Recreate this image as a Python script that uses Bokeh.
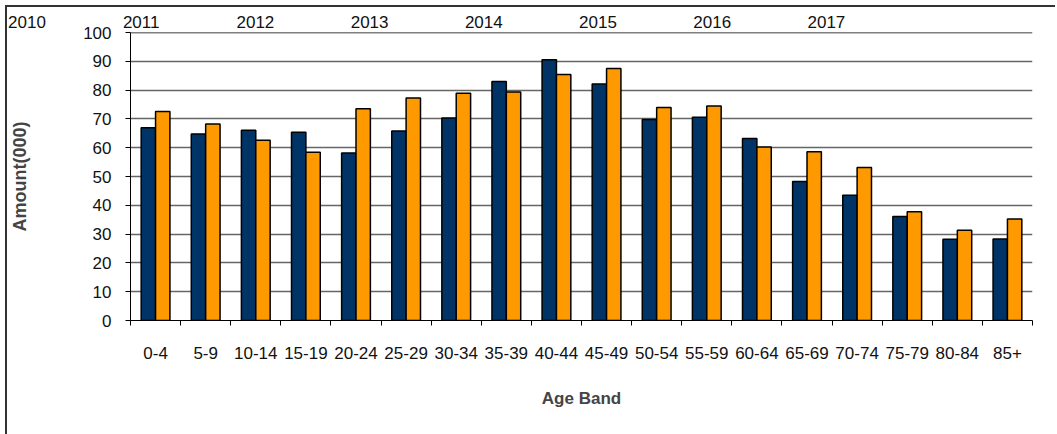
from bokeh.plotting import figure
from bokeh.layouts import column
from bokeh.models import ColumnDataSource, Range1d, FixedTicker, Div, Span
from bokeh.transform import dodge
from bokeh.embed import file_html
from bokeh.resources import INLINE

# ---- data ----
age_bands = ["0-4", "5-9", "10-14", "15-19", "20-24", "25-29", "30-34", "35-39",
             "40-44", "45-49", "50-54", "55-59", "60-64", "65-69", "70-74",
             "75-79", "80-84", "85+"]
series_a = [66.9, 64.8, 66.1, 65.4, 58.2, 65.8, 70.3, 83.0, 90.5, 82.1,
            69.8, 70.6, 63.2, 48.3, 43.5, 36.1, 28.2, 28.3]
series_b = [72.6, 68.2, 62.6, 58.4, 73.5, 77.3, 78.9, 79.3, 85.4, 87.5,
            74.0, 74.5, 60.2, 58.6, 53.1, 37.8, 31.3, 35.2]
years = ["2010", "2011", "2012", "2013", "2014", "2015", "2016", "2017"]
y_ticks = [0, 10, 20, 30, 40, 50, 60, 70, 80, 90, 100]

FONT = "Liberation Sans"
NAVY = "#003366"
ORANGE = "#FF9900"
BORDER = "2px solid #333333"

n = len(age_bands)
source = ColumnDataSource(dict(pos=list(range(n)), age=age_bands,
                               a=series_a, b=series_b))

W = 1050

# ---- header row of year labels ----
spans = "".join(
    f'<span style="position:absolute;left:{20 + 114.2 * k:.1f}px;top:7px;'
    f'transform:translateX(-50%);white-space:nowrap">{yr}</span>'
    for k, yr in enumerate(years))
header = Div(text=(f'<div style="position:relative;width:{W}px;height:30px;'
                   f'font-family:\'{FONT}\';font-size:17px;line-height:17px;'
                   f'color:#111111">{spans}</div>'),
             width=W, height=30,
             styles={"border-top": BORDER, "border-left": BORDER,
                     "margin-left": "5px", "overflow": "visible"})

# ---- chart ----
H = 414
p = figure(x_range=Range1d(0, n), y_range=Range1d(0, 100),
           width=W, height=H, output_backend="svg", toolbar_location=None,
           min_border_left=122, min_border_right=W - 1025,
           min_border_top=12, min_border_bottom=114)
p.styles = {"border-left": BORDER, "margin-left": "5px", "margin-top": "-20px"}
p.outline_line_color = None
p.background_fill_color = "white"
p.border_fill_alpha = 0

bw = 0.287
p.vbar(x=dodge("pos", 0.5 - bw / 2), top="a", width=bw, source=source,
       fill_color=NAVY, line_color="black", line_width=1.5)
p.vbar(x=dodge("pos", 0.5 + bw / 2), top="b", width=bw, source=source,
       fill_color=ORANGE, line_color="black", line_width=1.5)

# y axis
yax = p.yaxis[0]
yax.ticker = FixedTicker(ticks=y_ticks)
yax.axis_line_color = "black"
yax.major_tick_out = 5
yax.major_tick_in = 0
yax.minor_tick_line_color = None
yax.major_label_text_font = FONT
yax.major_label_text_font_size = "17px"
yax.major_label_text_color = "#111111"
yax.major_label_standoff = 14
yax.axis_label = "Amount(000)"
yax.axis_label_text_font = FONT
yax.axis_label_text_font_style = "bold"
yax.axis_label_text_font_size = "18px"
yax.axis_label_standoff = 50

p.ygrid.ticker = FixedTicker(ticks=y_ticks)
p.ygrid.grid_line_color = "#666666"
p.ygrid.grid_line_width = 1.5
p.xgrid.grid_line_color = None
p.add_layout(Span(location=y_ticks[-1], dimension="width",
                  line_color="black", line_width=1.5))

# x axis: labels at band centres, ticks on band boundaries
centers = [i + 0.5 for i in range(n)]
xax = p.xaxis[0]
xax.ticker = FixedTicker(ticks=centers, minor_ticks=list(range(n + 1)))
xax.major_label_overrides = {c: lab for c, lab in zip(centers, age_bands)}
xax.axis_line_color = "black"
xax.major_tick_out = 0
xax.major_tick_in = 0
xax.minor_tick_out = 5
xax.minor_tick_in = 0
xax.minor_tick_line_color = "black"
xax.major_label_text_font = FONT
xax.major_label_text_font_size = "17px"
xax.major_label_text_color = "#111111"
xax.major_label_standoff = 21
xax.axis_label = "Age Band"
xax.axis_label_text_font = FONT
xax.axis_label_text_font_style = "bold"
xax.axis_label_text_font_size = "17px"
xax.axis_label_standoff = 27

layout = column(header, p, spacing=0)
html = file_html(layout, INLINE).replace(
    "<body>", '<body style="margin:0;overflow:hidden">', 1)
open("out.html", "w").write(html)
